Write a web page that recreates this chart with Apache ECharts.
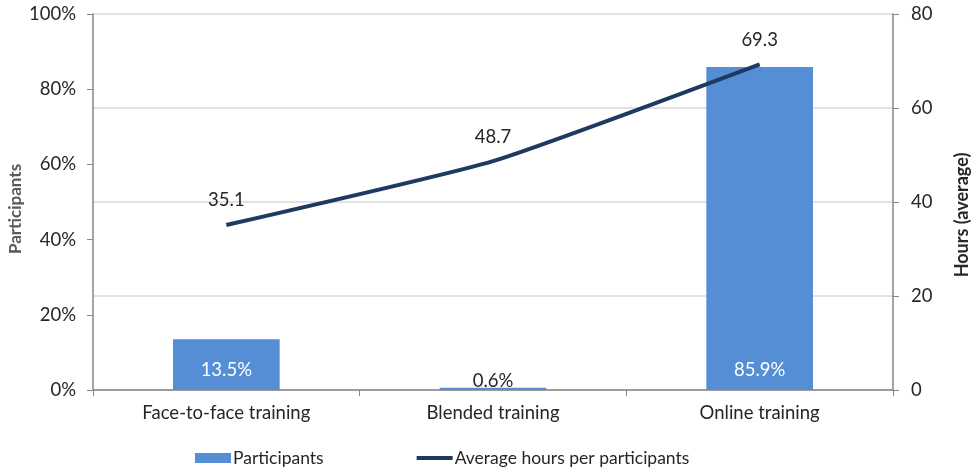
<!DOCTYPE html>
<html>
<head>
<meta charset="utf-8">
<script src="https://cdn.jsdelivr.net/npm/echarts@6/dist/echarts.min.js"></script>
<style>
  html, body { margin: 0; padding: 0; background: #ffffff; }
  #chart { width: 972px; height: 468px; }
</style>
</head>
<body>
<div id="chart"></div>
<script>
// Training formats and their participation / average hours
const categories = ['Face-to-face training', 'Blended training', 'Online training'];
const participantsPct = [13.5, 0.6, 85.9];
const avgHours = [35.1, 48.7, 69.3];
const leftTicks = { min: 0, max: 100, interval: 20 };
const rightTicks = { min: 0, max: 80, interval: 20 };

const FONT = 'Lato, "Open Sans", sans-serif';
const BAR_COLOR = '#558ed5';
const LINE_COLOR = '#1f3a60';
const AXIS_COLOR = '#868686';
const TEXT_COLOR = '#262626';
const FS = 18.5;

const chart = echarts.init(document.getElementById('chart'));

chart.setOption({
  animation: false,
  textStyle: { fontFamily: FONT },
  grid: { left: 93, right: 79, top: 14, bottom: 78, containLabel: false, outerBoundsMode: 'none' },
  legend: {
    left: 195,
    top: 449,
    padding: 0,
    itemGap: 93,
    itemWidth: 36,
    itemHeight: 10,
    symbolKeepAspect: true,
    textStyle: { fontFamily: FONT, fontSize: 17.5, color: TEXT_COLOR, padding: [0, 0, 0, -3] },
    data: [
      { name: 'Participants', icon: 'rect' },
      { name: 'Average hours per participants', icon: 'path://M0,0H36V4H0Z', itemStyle: { color: LINE_COLOR } }
    ]
  },
  xAxis: {
    type: 'category',
    data: categories,
    axisLine: { lineStyle: { color: AXIS_COLOR, width: 1.5 } },
    axisTick: { show: true, length: 6, inside: false, lineStyle: { color: AXIS_COLOR } },
    axisLabel: { fontFamily: FONT, fontSize: FS, color: TEXT_COLOR, margin: 14 }
  },
  yAxis: [
    {
      type: 'value',
      min: leftTicks.min,
      max: leftTicks.max,
      interval: leftTicks.interval,
      position: 'left',
      name: 'Participants',
      nameLocation: 'middle',
      nameRotate: 90,
      nameGap: 69,
      nameMoveOverlap: false,
      nameTextStyle: { fontFamily: FONT, fontSize: 17, fontWeight: 'bold', color: '#595959', padding: [0, 14, 0, 0] },
      axisLine: { show: true, lineStyle: { color: AXIS_COLOR, width: 1.5 } },
      axisTick: { show: true, length: 6, lineStyle: { color: AXIS_COLOR } },
      axisLabel: { fontFamily: FONT, fontSize: FS, color: TEXT_COLOR, margin: 17, formatter: '{value}%' },
      splitLine: { show: false }
    },
    {
      type: 'value',
      min: rightTicks.min,
      max: rightTicks.max,
      interval: rightTicks.interval,
      position: 'right',
      name: 'Hours (average)',
      nameLocation: 'middle',
      nameRotate: 90,
      nameGap: 60,
      nameMoveOverlap: false,
      nameTextStyle: { fontFamily: FONT, fontSize: 18, fontWeight: 'bold', color: '#262626', padding: [0, 26, 0, 0] },
      axisLine: { show: true, lineStyle: { color: AXIS_COLOR, width: 1.5 } },
      axisTick: { show: true, length: 6, lineStyle: { color: AXIS_COLOR } },
      axisLabel: { fontFamily: FONT, fontSize: FS, color: TEXT_COLOR, margin: 18 },
      splitLine: { show: true, lineStyle: { color: '#d9d9d9', width: 1.5 } }
    }
  ],
  series: [
    {
      name: 'Participants',
      type: 'bar',
      yAxisIndex: 0,
      barWidth: '40%',
      itemStyle: { color: BAR_COLOR },
      data: participantsPct.map(function (v) {
        const tiny = v < 3;
        return {
          value: v,
          label: {
            show: true,
            position: 'insideBottom',
            distance: tiny ? -1 : 10,
            color: tiny ? TEXT_COLOR : '#ffffff',
            fontFamily: FONT,
            fontSize: FS,
            formatter: '{c}%'
          }
        };
      })
    },
    {
      name: 'Average hours per participants',
      type: 'line',
      yAxisIndex: 1,
      smooth: 0.15,
      symbol: 'circle',
      symbolSize: 0.1,
      showSymbol: true,
      lineStyle: { color: LINE_COLOR, width: 4 },
      itemStyle: { color: LINE_COLOR },
      label: {
        show: true,
        position: 'top',
        distance: 15,
        color: TEXT_COLOR,
        fontFamily: FONT,
        fontSize: FS
      },
      data: avgHours
    }
  ]
});
</script>
</body>
</html>
